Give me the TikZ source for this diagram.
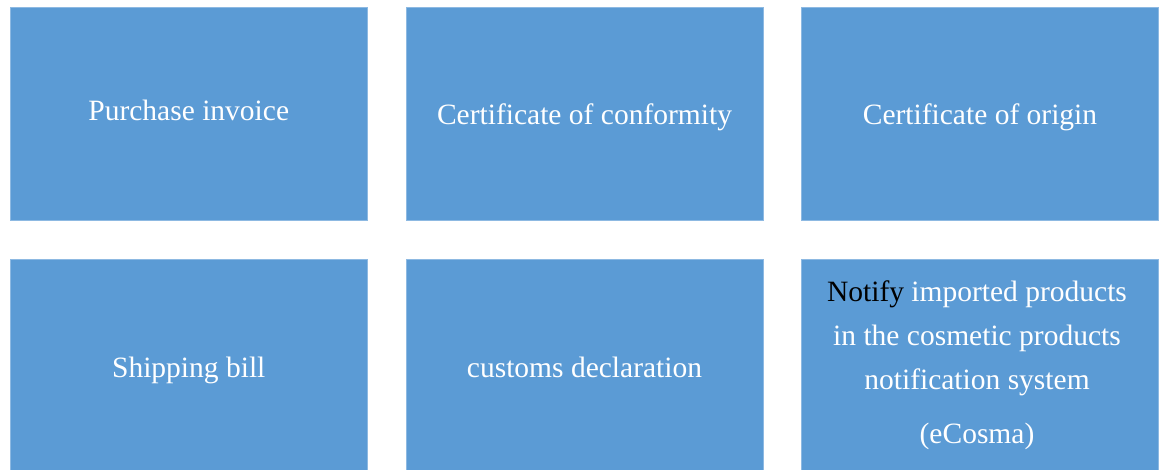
\documentclass[tikz,border=0pt]{standalone}
\usepackage{fontspec}
\setmainfont{Liberation Serif}
\definecolor{boxfill}{HTML}{5B9BD5}
\definecolor{boxline}{HTML}{8DB9E2}
\begin{document}
\begin{tikzpicture}[x=1pt,y=1pt,
  docbox/.style={draw=boxline,line width=0.8pt,fill=boxfill,minimum width=357pt,minimum height=212.5pt,
    inner sep=0pt,text=white,font=\fontsize{29.5}{44}\selectfont,align=center,
    text height=20.5pt,text depth=6.5pt}]
\useasboundingbox (0,0) rectangle (1160,469);
\node[docbox] (b1) at (188.75,355.25) {Purchase invoice};
\node[docbox,text height=28.5pt] (b2) at (584.5,355.25) {Certificate of conformity};
\node[docbox,text height=28.5pt] (b3) at (980,355.25) {Certificate of origin};
\node[docbox,text height=30.5pt] (b4) at (188.75,103.25) {Shipping bill};
\node[docbox,text height=30.5pt] (b5) at (584.5,103.25) {customs declaration};
\node[docbox,text height=,text depth=] (b6) at (980,103.25) {};
\node[text=white,font=\fontsize{29.5}{44}\selectfont,align=center,inner sep=0pt] (t6) at (977,104)
  {\textcolor{black}{Notify} imported products\\in the cosmetic products\\notification system\\[10pt](eCosma)};
\end{tikzpicture}
\end{document}
